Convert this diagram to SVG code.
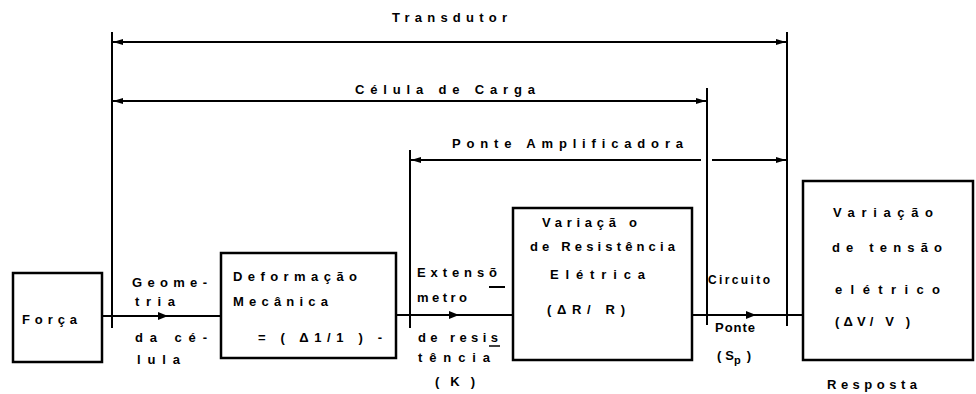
<svg xmlns="http://www.w3.org/2000/svg" width="976" height="394" viewBox="0 0 976 394">
<style>
text{font-family:"Liberation Sans",Arial,sans-serif;font-weight:bold;font-size:13px;fill:#000}
.box{fill:#fff;stroke:#000;stroke-width:2.5}
.ln{fill:none;stroke:#000;stroke-width:2}
.dim{fill:none;stroke:#000;stroke-width:1.8;marker-start:url(#ah);marker-end:url(#ah)}
.flow{fill:none;stroke:#000;stroke-width:2}
</style>
<defs>
<marker id="ah" viewBox="0 0 10 8" refX="10" refY="4" markerWidth="10" markerHeight="8" markerUnits="userSpaceOnUse" orient="auto-start-reverse">
<path d="M0,1 L10,4 L0,7 Z" fill="#000"/>
</marker>
</defs>

<g id="connectors">
<line class="ln" x1="112" y1="32" x2="112" y2="328"/>
<line class="ln" x1="787" y1="32" x2="787" y2="326"/>
<line class="ln" x1="707" y1="88" x2="707" y2="325"/>
<line class="ln" x1="410" y1="150" x2="410" y2="328"/>
<line class="dim" x1="113" y1="42" x2="786" y2="42"/>
<line class="dim" x1="113" y1="101" x2="706" y2="101"/>
<path class="ln" d="M411,160 H701" marker-start="url(#ah)"/>
<path class="ln" d="M712,160 H786" marker-end="url(#ah)"/>
<path class="flow" d="M102,316 H221"/>
<path class="flow" d="M396,315 H513"/>
<path class="flow" d="M692,315 H803"/>
<path d="M158,312 L168,316 L158,320 Z" fill="#000"/>
<path d="M449,311 L459,315 L449,319 Z" fill="#000"/>
<path d="M746,311 L756,315 L746,319 Z" fill="#000"/>
</g>

<g id="dim-labels">
<text x="392" y="22" textLength="115" lengthAdjust="spacing">Transdutor</text>
<text x="355" y="94" textLength="180" lengthAdjust="spacing">Célula de Carga</text>
<text x="452" y="148" textLength="231" lengthAdjust="spacing">Ponte Amplificadora</text>
</g>

<g id="forca">
<rect class="box" x="13" y="273" width="89" height="89"/>
<text x="22" y="324" textLength="55" lengthAdjust="spacing">Força</text>
</g>

<g id="geometria">
<text x="132" y="287" textLength="75" lengthAdjust="spacing">Geome-</text>
<text x="135" y="306" textLength="40" lengthAdjust="spacing">tria</text>
<text x="135" y="342" textLength="72" lengthAdjust="spacing">da cé-</text>
<text x="137" y="364" textLength="43" lengthAdjust="spacing">lula</text>
</g>

<g id="deformacao">
<rect class="box" x="221" y="253" width="175" height="105"/>
<text x="233" y="281" textLength="124" lengthAdjust="spacing">Deformação</text>
<text x="233" y="306" textLength="95" lengthAdjust="spacing">Mecânica</text>
<text x="258" y="342" textLength="124" lengthAdjust="spacing">= ( Δ1/1 ) -</text>
</g>

<g id="extensometro">
<text x="417" y="277" textLength="80" lengthAdjust="spacing">Extensõ</text>
<line x1="489" y1="287" x2="505" y2="287" stroke="#000" stroke-width="2"/>
<text x="417" y="302" textLength="50" lengthAdjust="spacing">metro</text>
<text x="418" y="342" textLength="80" lengthAdjust="spacing">de resis</text>
<line x1="489" y1="346" x2="500" y2="346" stroke="#000" stroke-width="1.5"/>
<text x="418" y="362" textLength="72" lengthAdjust="spacing">tência</text>
<text x="435" y="386" textLength="40" lengthAdjust="spacing">( K )</text>
</g>

<g id="variacao-r">
<rect class="box" x="513" y="208" width="179" height="152"/>
<text x="542" y="227" textLength="95" lengthAdjust="spacing">Variaçã o</text>
<text x="530" y="251" textLength="145" lengthAdjust="spacing">de Resistência</text>
<text x="550" y="279" textLength="95" lengthAdjust="spacing">Elétrica</text>
<text x="547" y="314" textLength="78" lengthAdjust="spacing">(ΔR/ R)</text>
</g>

<g id="circuito">
<text x="708" y="284" textLength="62" lengthAdjust="spacing" style="font-size:12px">Circuito</text>
<text x="715" y="332" textLength="40" lengthAdjust="spacing">Ponte</text>
<text x="717" y="360">(<tspan dx="4">S</tspan><tspan dy="4" font-size="11">p</tspan><tspan dy="-4" dx="6">)</tspan></text>
</g>

<g id="variacao-v">
<rect class="box" x="803" y="181" width="170" height="179"/>
<text x="833" y="217" textLength="100" lengthAdjust="spacing">Variação</text>
<text x="832" y="252" textLength="110" lengthAdjust="spacing">de tensão</text>
<text x="835" y="294" textLength="105" lengthAdjust="spacing">elétrico</text>
<text x="835" y="326" textLength="75" lengthAdjust="spacing">(ΔV/ V )</text>
<text x="827" y="389" textLength="90" lengthAdjust="spacing">Resposta</text>
</g>
</svg>
